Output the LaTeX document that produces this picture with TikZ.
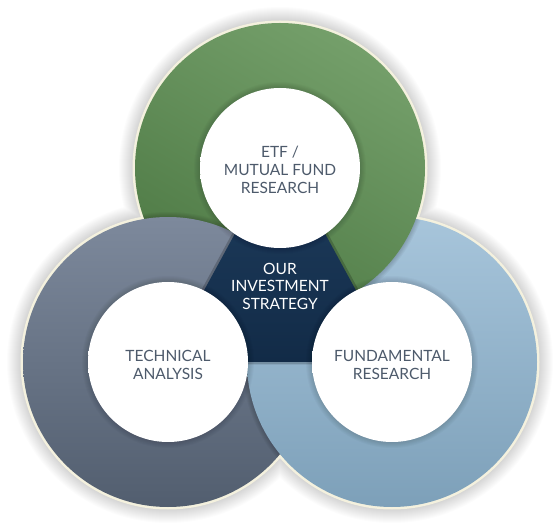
\documentclass[tikz,border=0pt]{standalone}
\usepackage{fontspec}
\setmainfont{Lato}
\definecolor{txt}{HTML}{4D5A6B}
\definecolor{cream}{HTML}{F4F1DE}
\definecolor{gtop}{HTML}{749F6A}
\definecolor{gbot}{HTML}{4E7A45}
\definecolor{ltop}{HTML}{7D899C}
\definecolor{lbot}{HTML}{525E6F}
\definecolor{btop}{HTML}{A7C5DB}
\definecolor{bbot}{HTML}{7DA0B9}
\definecolor{ntop}{HTML}{1F3E5F}
\definecolor{nbot}{HTML}{122B47}
\pgfdeclareradialshading{disc}{\pgfpoint{0bp}{3bp}}{color(0bp)=(white); color(34bp)=(white); color(46bp)=(black!8); color(50bp)=(black!14); color(75bp)=(black!14)}
\tikzset{
  ringshadow/.style={black,opacity=0.035},
  outershadow/.style={black,opacity=0.013},
  lbl/.style={text=txt,font=\fontsize{15.5}{18}\selectfont,align=center,inner sep=0pt},
  lblw/.style={text=white,font=\fontsize{15.5}{17.5}\selectfont,align=center,inner sep=0pt},
  disc/.style={shading=disc}
}
\begin{document}
\begin{tikzpicture}[x=1pt,y=-1pt]
\useasboundingbox (0,0) rectangle (560,529);
\coordinate (G) at (280,168);
\coordinate (L) at (168,362);
\coordinate (B) at (392,362);
\coordinate (T1) at (280,151);
\coordinate (T2) at (165,362);
\coordinate (T3) at (395,362);
% outer soft shadow
\foreach \k in {1,...,14}
  \fill[outershadow] (G) circle (147+\k) (L) circle (147+\k) (B) circle (147+\k);
% cream rim
\fill[cream] (G) circle (147.5) (L) circle (147.5) (B) circle (147.5);
% blue ring
\shade[top color=btop,bottom color=bbot] (B) circle (145);
% shadow of green onto blue
\begin{scope}
  \clip (B) circle (145);
  \foreach \k in {1,...,5} \fill[ringshadow] (G) circle (145+\k);
\end{scope}
% green ring
\shade[top color=gtop,bottom color=gbot,shading angle=-30] (G) circle (145);
% shadow of gray onto green
\begin{scope}
  \clip (G) circle (145);
  \foreach \k in {1,...,5} \fill[ringshadow] (L) circle (145+\k);
\end{scope}
% gray ring
\shade[top color=ltop,bottom color=lbot] (L) circle (145);
% shadow of blue onto gray, then blue over gray
\begin{scope}
  \clip (L) circle (145);
  \foreach \k in {1,...,5} \fill[ringshadow] (B) circle (145+\k);
\end{scope}
\begin{scope}
  \clip (L) circle (146.5);
  \shade[top color=btop,bottom color=bbot] (B) circle (145);
\end{scope}
% central triangle
\draw[black,opacity=0.2,line width=5pt,line join=round] (T1) -- (T2) -- (T3) -- cycle;
\shade[top color=ntop,bottom color=nbot] (T1) -- (T2) -- (T3) -- cycle;
% shadows of white discs
\foreach \c in {G,L,B}
  \foreach \k in {1,...,6}
    \fill[black,opacity=0.025] (\c) circle (80+\k);
% white discs
\node[circle,minimum size=160pt,inner sep=0pt,disc] (dG) at (G) {};
\node[circle,minimum size=160pt,inner sep=0pt,disc] (dL) at (L) {};
\node[circle,minimum size=160pt,inner sep=0pt,disc] (dB) at (B) {};
% labels
\node[lbl] (tG) at ([yshift=-2pt]dG.center) {ETF /\\MUTUAL FUND\\RESEARCH};
\node[lbl] (tL) at ([yshift=-3pt]dL.center) {TECHNICAL\\ANALYSIS};
\node[lbl] (tB) at ([yshift=-3pt]dB.center) {FUNDAMENTAL\\RESEARCH};
\node[lblw] (tC) at (280,286) {OUR\\INVESTMENT\\STRATEGY};
\end{tikzpicture}
\end{document}
